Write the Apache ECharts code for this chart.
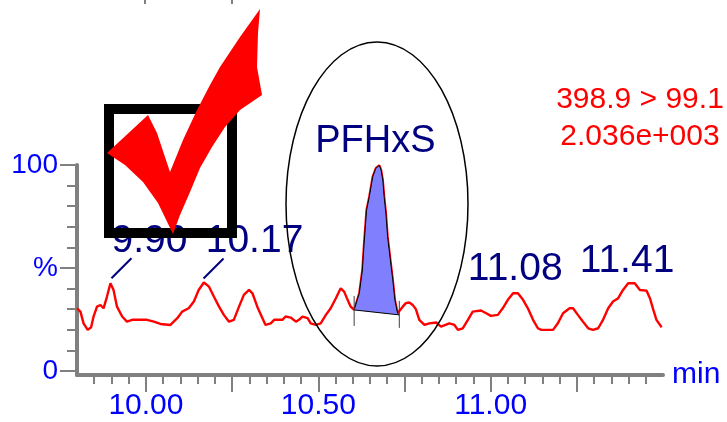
<!DOCTYPE html>
<html>
<head>
<meta charset="utf-8">
<script src="https://cdn.jsdelivr.net/npm/echarts@6/dist/echarts.min.js"></script>
<style>
html, body { margin: 0; padding: 0; background: #fff; }
#chart { width: 727px; height: 422px; }
</style>
</head>
<body>
<div id="chart"></div>
<script>
// retention time (min) and relative intensity (%)
const times = [
    9.800, 9.810, 9.819, 9.831, 9.841, 9.848, 9.858, 9.868, 9.877, 9.887,
    9.897, 9.906, 9.916, 9.931, 9.945, 9.960, 10.003, 10.023, 10.042, 10.071,
    10.091, 10.105, 10.124, 10.139, 10.153, 10.168, 10.183, 10.197, 10.212, 10.226,
    10.241, 10.255, 10.270, 10.284, 10.299, 10.309, 10.323, 10.338, 10.347, 10.362,
    10.372, 10.396, 10.405, 10.420, 10.435, 10.444, 10.454, 10.469, 10.478, 10.493,
    10.507, 10.522, 10.536, 10.551, 10.565, 10.575, 10.585, 10.594, 10.604, 10.619,
    10.628, 10.633, 10.640, 10.648, 10.658, 10.667, 10.677, 10.682, 10.687, 10.691,
    10.696, 10.701, 10.709, 10.716, 10.722, 10.730, 10.735, 10.745, 10.754, 10.764,
    10.774, 10.783, 10.793, 10.808, 10.822, 10.842, 10.856, 10.880, 10.895, 10.905,
    10.919, 10.934, 10.948, 10.972, 10.987, 11.001, 11.021, 11.035, 11.050, 11.065,
    11.079, 11.094, 11.108, 11.123, 11.137, 11.147, 11.181, 11.195, 11.210, 11.229,
    11.239, 11.253, 11.268, 11.283, 11.297, 11.312, 11.326, 11.341, 11.355, 11.370,
    11.384, 11.399, 11.418, 11.433, 11.452, 11.462, 11.472, 11.481, 11.496
];
const intensity = [
    30.4, 28.8, 23.1, 19.9, 21.2, 26.4, 31.2, 32.0, 30.4, 36.1,
    42.6, 39.3, 31.2, 26.4, 23.9, 24.8, 24.8, 23.9, 22.8, 22.3,
    25.6, 28.8, 30.4, 33.7, 39.3, 42.9, 40.9, 36.1, 31.2, 27.2,
    23.9, 24.8, 31.2, 36.9, 39.3, 37.7, 31.2, 25.6, 22.3, 23.1,
    24.8, 24.8, 26.4, 25.9, 23.9, 24.8, 26.4, 25.6, 23.1, 22.3,
    23.1, 27.2, 30.4, 35.3, 40.1, 38.5, 34.5, 31.2, 29.6, 37.7,
    49.0, 62.0, 78.0, 84.6, 94.3, 98.4, 99.8, 97.6, 92.7, 84.6,
    76.6, 65.2, 53.9, 44.2, 34.5, 28.0, 27.2, 31.2, 32.9, 33.2,
    32.0, 30.0, 24.8, 22.3, 23.1, 23.5, 21.5, 23.1, 22.3, 19.9,
    20.7, 24.8, 28.8, 29.3, 28.0, 26.7, 27.2, 30.4, 34.5, 37.7,
    37.7, 34.5, 30.4, 24.8, 20.7, 19.9, 19.9, 23.1, 28.0, 30.4,
    30.4, 27.2, 23.9, 20.7, 19.9, 20.7, 24.8, 30.4, 33.7, 35.3,
    39.3, 42.6, 42.6, 39.3, 39.0, 35.3, 29.6, 24.8, 21.2
];

// integrated peak limits
const peakStart = 10.604;
const peakEnd = 10.735;

// peak annotations
const labelTexts = ['9.90', '10.17', '11.08', '11.41', 'PFHxS'];
const labelTimes = [9.90, 10.17, 11.08, 11.41, 10.677];
const labelHeights = [42.6, 42.9, 37.7, 42.6, 99.8];

// axis ticks
const xMajorTicks = [10.00, 10.25, 10.50, 10.75, 11.00, 11.25];
const xMinorTicks = [9.85, 9.90, 9.95, 10.05, 10.10, 10.15, 10.20, 10.30, 10.35, 10.40,
    10.45, 10.55, 10.60, 10.65, 10.70, 10.80, 10.85, 10.90, 10.95, 11.05,
    11.10, 11.15, 11.20, 11.30, 11.35, 11.40, 11.45];
const xLabelValues = [10.00, 10.50, 11.00];
const yMajorTicks = [0, 50, 100];
const yMinorTicks = [10, 20, 30, 40, 60, 70, 80, 90];
const yLabelText = { 0: '0', 50: '%', 100: '100' };

const channelText = ['398.9 > 99.1', '2.036e+003'];

const FONT = '"Liberation Sans", Arial, sans-serif';
const GRAY = '#808080';

// label placement relative to the peak apex (pixels)
const labelStyle = [
    { dx: 38, dy: -42, size: 39, leader: [0, -5, 20, -25] },
    { dx: 50, dy: -41, size: 39, leader: [-1, -4, 19, -24] },
    { dx: -3, dy: -24, size: 39 },
    { dx: -5, dy: -22, size: 39 },
    { dx: -4, dy: -24, size: 38 }
];

const peakIdx = times.map((t, i) => i).filter(i => times[i] >= peakStart && times[i] <= peakEnd);

const chart = echarts.init(document.getElementById('chart'));

const option = {
    animation: false,
    grid: { left: 77, right: 64, top: 165, bottom: 47 },
    xAxis: [{
        type: 'value',
        min: 9.8,
        max: 11.5,
        position: 'bottom',
        name: 'min',
        nameLocation: 'end',
        nameGap: 9,
        nameTextStyle: { color: '#0000ff', fontSize: 30, fontFamily: FONT, padding: [6, 0, 0, 0] },
        axisLine: { onZero: false, lineStyle: { color: GRAY, width: 4, cap: 'round' } },
        axisTick: { customValues: xMajorTicks, length: 17, lineStyle: { color: GRAY, width: 2 } },
        axisLabel: {
            customValues: xLabelValues,
            formatter: v => v.toFixed(2),
            color: '#0000ff',
            fontSize: 30,
            fontFamily: FONT,
            margin: 16
        },
        splitLine: { show: false }
    }, {
        type: 'value',
        min: 9.8,
        max: 11.5,
        position: 'bottom',
        axisLine: { show: false, onZero: false },
        axisTick: { customValues: xMinorTicks, length: 9, lineStyle: { color: GRAY, width: 2 } },
        axisLabel: { show: false },
        splitLine: { show: false }
    }],
    yAxis: [{
        type: 'value',
        min: -2,
        max: 100,
        position: 'left',
        axisLine: { show: true, onZero: false, lineStyle: { color: GRAY, width: 4 } },
        axisTick: { show: true, customValues: yMajorTicks, length: 17, lineStyle: { color: GRAY, width: 2 } },
        axisLabel: {
            customValues: yMajorTicks,
            formatter: v => yLabelText[v],
            color: '#0000ff',
            fontSize: 28,
            fontFamily: FONT,
            margin: 19
        },
        splitLine: { show: false }
    }, {
        type: 'value',
        min: -2,
        max: 100,
        position: 'left',
        axisLine: { show: false, onZero: false },
        axisTick: { show: true, customValues: yMinorTicks, length: 10, lineStyle: { color: GRAY, width: 2 } },
        axisLabel: { show: false },
        splitLine: { show: false }
    }],
    series: [{
        type: 'line',
        data: times.map((t, i) => [t, intensity[i]]),
        symbol: 'none',
        lineStyle: { color: '#ff0000', width: 2.4 },
        z: 2
    }, {
        type: 'custom',
        data: [[peakStart, intensity[peakIdx[0]]]],
        renderItem: (params, api) => {
            const pts = peakIdx.map(i => api.coord([times[i], intensity[i]]));
            const a = pts[0];
            const b = pts[pts.length - 1];
            return {
                type: 'group',
                children: [
                    { type: 'polygon', shape: { points: pts }, style: { fill: '#8080ff', stroke: '#000', lineWidth: 1 } },
                    { type: 'line', shape: { x1: a[0], y1: a[1] - 14, x2: a[0], y2: a[1] + 16 }, style: { stroke: '#404040', lineWidth: 1 } },
                    { type: 'line', shape: { x1: b[0], y1: b[1] - 14, x2: b[0], y2: b[1] + 13 }, style: { stroke: '#404040', lineWidth: 1 } }
                ]
            };
        },
        z: 3
    }, {
        type: 'custom',
        data: labelTimes.map((t, i) => [t, labelHeights[i]]),
        renderItem: (params, api) => {
            const i = params.dataIndex;
            const p = api.coord([labelTimes[i], labelHeights[i]]);
            const s = labelStyle[i];
            const children = [{
                type: 'text',
                x: p[0] + s.dx,
                y: p[1] + s.dy,
                style: {
                    text: labelTexts[i],
                    fill: '#000080',
                    fontSize: s.size,
                    fontFamily: FONT,
                    align: 'center',
                    verticalAlign: 'middle'
                }
            }];
            if (s.leader) {
                children.push({
                    type: 'line',
                    shape: { x1: p[0] + s.leader[0], y1: p[1] + s.leader[1], x2: p[0] + s.leader[2], y2: p[1] + s.leader[3] },
                    style: { stroke: '#000080', lineWidth: 2 }
                });
            }
            return { type: 'group', children: children };
        },
        z: 4
    }],
    graphic: [
        // hand-drawn style annotations
        { type: 'ellipse', z: 10, shape: { cx: 377, cy: 204, rx: 91, ry: 162 }, style: { fill: 'transparent', stroke: '#000', lineWidth: 1.5 } },
        { type: 'rect', z: 20, shape: { x: 109, y: 109, width: 123, height: 124 }, style: { fill: 'transparent', stroke: '#000', lineWidth: 10 } },
        {
            type: 'polygon', z: 21,
            shape: {
                points: [[107, 153], [148, 115], [157, 133], [165, 157], [170, 172], [183, 140], [197, 110],
                    [210, 85], [220, 67], [240, 37], [260, 9], [258, 33], [257, 67], [262, 95], [240, 110],
                    [225, 127], [212, 147], [200, 168], [190, 192], [180, 215], [173, 234], [158, 203],
                    [143, 182], [125, 165]]
            },
            style: { fill: '#ff0000' }
        },
        { type: 'text', z: 10, x: 640, y: 100, style: { text: channelText[0], fill: '#ff0000', fontSize: 30, fontFamily: FONT, align: 'center', verticalAlign: 'middle' } },
        { type: 'text', z: 10, x: 640, y: 137, style: { text: channelText[1], fill: '#ff0000', fontSize: 30, fontFamily: FONT, align: 'center', verticalAlign: 'middle' } },
        { type: 'line', z: 10, shape: { x1: 145, y1: 0, x2: 145, y2: 4 }, style: { stroke: GRAY, lineWidth: 2 } },
        { type: 'line', z: 10, shape: { x1: 232, y1: 0, x2: 232, y2: 4 }, style: { stroke: GRAY, lineWidth: 2 } }
    ]
};

chart.setOption(option);
</script>
</body>
</html>
